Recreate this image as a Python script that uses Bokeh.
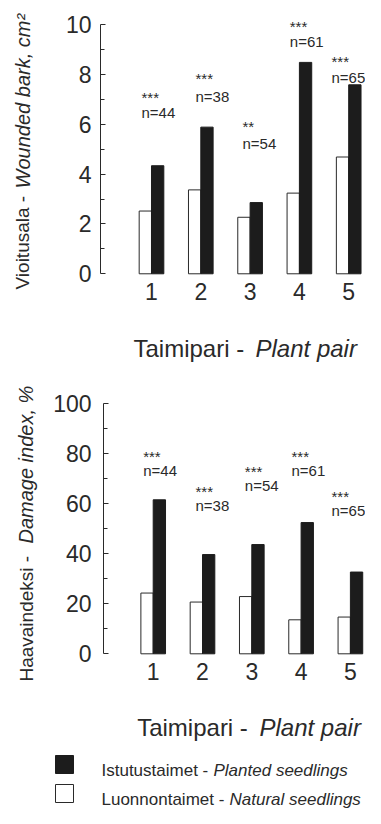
import math
from bokeh.plotting import figure
from bokeh.models import Range1d, FixedTicker, Label, ColumnDataSource
from bokeh.layouts import column
from bokeh.transform import dodge
from bokeh.core.properties import value
from bokeh.embed import file_html
from bokeh.resources import INLINE

# ---------------- data ----------------
pairs = [1, 2, 3, 4, 5]
series_names = ["Istutustaimet", "Luonnontaimet"]
series_names_en = ["Planted seedlings", "Natural seedlings"]

bark_natural = [2.52, 3.37, 2.27, 3.24, 4.69]
bark_planted = [4.34, 5.89, 2.86, 8.49, 7.59]

damage_natural = [24.3, 20.7, 22.9, 13.6, 14.7]
damage_planted = [61.6, 39.7, 43.7, 52.5, 32.7]

n_labels = ["n=44", "n=38", "n=54", "n=61", "n=65"]
sig_bark = ["***", "***", "**", "***", "***"]
sig_damage = ["***", "***", "***", "***", "***"]

y_ticks_bark = [0, 2, 4, 6, 8, 10]
y_minor_bark = [1, 3, 5, 7, 9]
y_ticks_damage = [0, 20, 40, 60, 80, 100]
y_minor_damage = [10, 30, 50, 70, 90]

# ---------------- layout (annotation anchors, data units) ----------------
ann_x_bark = [0.797, 1.892, 2.846, 3.805, 4.651]
ann_n_y_bark = [6.46, 7.14, 5.25, 9.31, 7.90]
ann_s_y_bark = [7.07, 7.84, 5.90, 9.92, 8.51]

ann_x_damage = [0.797, 1.858, 2.858, 3.805, 4.617]
ann_n_y_damage = [73.4, 59.4, 67.4, 73.4, 57.5]
ann_s_y_damage = [78.8, 64.8, 72.8, 78.8, 63.0]

FONT = "Liberation Sans"
INK = "#2a2a2a"
DARK = "#1c1c1c"
BAR_W = 0.25
W = 365


def style(p, ticks, minor, bound, axis_x, std):
    p.grid.visible = False
    p.outline_line_color = None
    p.background_fill_color = "white"
    p.border_fill_color = "white"
    ya = p.yaxis[0]
    ya.fixed_location = axis_x
    ya.ticker = FixedTicker(ticks=ticks, minor_ticks=minor)
    ya.bounds = bound
    ya.major_tick_in = 5
    ya.major_tick_out = 0
    ya.minor_tick_in = 4
    ya.minor_tick_out = 0
    ya.axis_line_color = INK
    ya.major_tick_line_color = INK
    ya.minor_tick_line_color = INK
    ya.major_label_text_font = FONT
    ya.major_label_text_font_size = "23px"
    ya.major_label_text_color = INK
    ya.major_label_standoff = std
    xa = p.xaxis[0]
    xa.fixed_location = 0
    xa.ticker = FixedTicker(ticks=pairs)
    xa.axis_line_color = None
    xa.major_tick_line_color = None
    xa.minor_tick_line_color = None
    xa.major_label_text_font = FONT
    xa.major_label_text_font_size = "23px"
    xa.major_label_text_color = INK
    xa.major_label_standoff = 3


def bars(p, nat, pla):
    src = ColumnDataSource(dict(pair=pairs, nat=nat, pla=pla))
    p.vbar(x=dodge("pair", -BAR_W / 2), top="nat", width=BAR_W, source=src,
           fill_color="white", line_color=INK, line_width=1)
    p.vbar(x=dodge("pair", BAR_W / 2), top="pla", width=BAR_W, source=src,
           fill_color=DARK, line_color=DARK, line_width=1)


def annotations(p, xs, ny, sy, sig):
    p.text(x=xs, y=ny, text=n_labels, text_font=value(FONT), text_font_size="15px",
           text_color=INK, text_align="left", text_baseline="alphabetic")
    p.text(x=xs, y=sy, text=sig, text_font=value(FONT), text_font_size="15px",
           text_color=INK, text_align="left", text_baseline="alphabetic")


def lab(p, text, x, y, size, italic=False, angle=0.0):
    p.add_layout(Label(x=x, y=y, x_units="data", y_units="data", text=text,
                       text_font=FONT, text_font_size=size, text_color=INK,
                       text_font_style="italic" if italic else "normal",
                       angle=angle, text_align="left", text_baseline="alphabetic"))


def make_fig(height, xr, yr):
    return figure(width=W, height=height, x_range=Range1d(*xr), y_range=Range1d(*yr),
                  output_backend="svg", toolbar_location=None, min_border=0)


# ---------------- top chart ----------------
p1 = make_fig(370, (-2.0629, 5.3408), (-3.884, 10.976))
style(p1, y_ticks_bark, y_minor_bark, (0, 10), -0.0345, 9)
bars(p1, bark_natural, bark_planted)
annotations(p1, ann_x_bark, ann_n_y_bark, ann_s_y_bark, sig_bark)
lab(p1, "Vioitusala - ", -1.607, -0.63, "19px", angle=math.pi / 2)
lab(p1, "Wounded bark, cm\u00b2", -1.607, 3.43, "20px", italic=True, angle=math.pi / 2)
lab(p1, "Taimipari - ", 0.635, -3.02, "24px")
lab(p1, "Plant pair", 3.11, -3.02, "24px", italic=True)

# ---------------- bottom chart ----------------
p2 = make_fig(380, (-2.0974, 5.3063), (-38.68, 113.32))
style(p2, y_ticks_damage, y_minor_damage, (0, 100), -0.008, 12)
bars(p2, damage_natural, damage_planted)
annotations(p2, ann_x_damage, ann_n_y_damage, ann_s_y_damage, sig_damage)
lab(p2, "Haavaindeksi - ", -1.572, -11.1, "19px", angle=math.pi / 2)
lab(p2, "Damage index, %", -1.572, 44.1, "20px", italic=True, angle=math.pi / 2)
lab(p2, "Taimipari - ", 0.675, -29.28, "24px")
lab(p2, "Plant pair", 3.156, -29.28, "24px", italic=True)

# ---------------- legend ----------------
p3 = make_fig(58, (0, W), (0, 58))
p3.axis.visible = False
p3.grid.visible = False
p3.outline_line_color = None
p3.scatter(x=[64, 64], y=[44, 15], marker="square", size=18,
           fill_color=[DARK, "white"], line_color=[DARK, INK], line_width=1)
lab(p3, series_names[0] + " - ", 101, 38, "17px")
lab(p3, series_names_en[0], 213, 38, "17px", italic=True)
lab(p3, series_names[1] + " - ", 101, 9, "17px")
lab(p3, series_names_en[1], 229, 9, "17px", italic=True)

layout = column(p1, p2, p3, spacing=0)
open("out.html", "w").write(file_html(layout, INLINE))
